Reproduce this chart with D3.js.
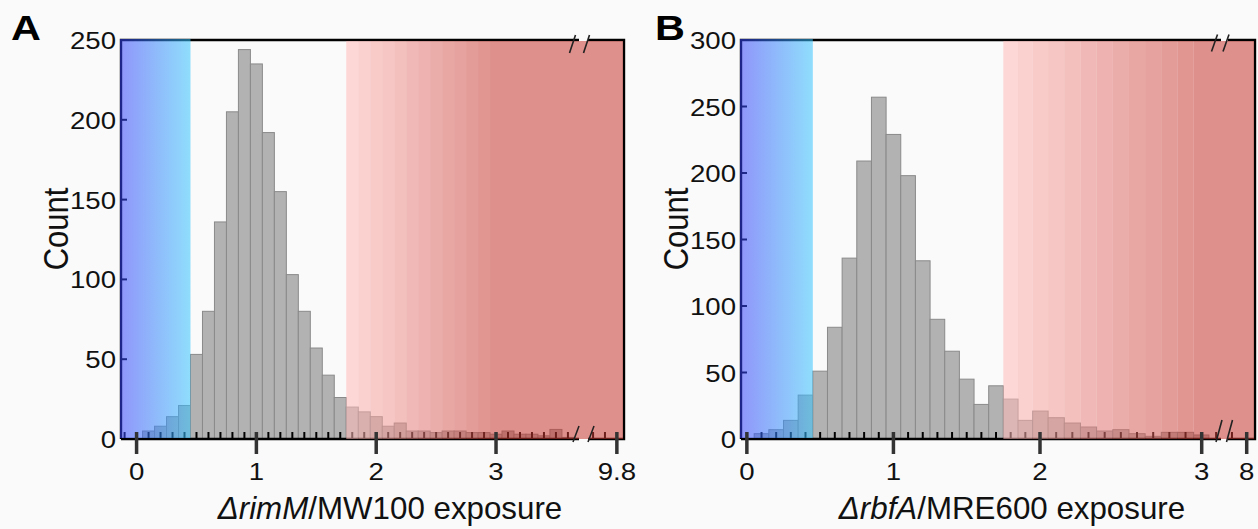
<!DOCTYPE html>
<html>
<head>
<meta charset="utf-8">
<script src="https://cdn.jsdelivr.net/npm/d3@7"></script>
<style>
body { margin: 0; background: #fafafa; }
svg { display: block; font-family: "Liberation Sans", Arial, Helvetica, sans-serif; }
</style>
</head>
<body>
<svg id="fig" width="1258" height="529"></svg>
<script>
// panel A: rimM / MW100, bins of 0.1 centred on the bin value
var binsA = [0.1, 0.2, 0.3, 0.4, 0.5, 0.6, 0.7, 0.8, 0.9, 1.0, 1.1, 1.2, 1.3, 1.4, 1.5, 1.6, 1.7, 1.8,
             1.9, 2.0, 2.1, 2.2, 2.3, 2.4, 2.5, 2.6, 2.7, 2.8, 2.9, 3.0, 3.1, 3.2, 3.3, 3.4, 3.5, 3.6];
var countsA = [5, 8, 14, 21, 53, 80, 136, 205, 244, 235, 192, 155, 103, 80, 57, 40, 26, 20,
               17, 14, 8, 10, 5, 5, 4, 5, 5, 4, 4, 3, 5, 3, 3, 2, 6, 1];
var majorTicksA = [0, 1, 2, 3, 9.8];
var tickLabelsA = ["0", "1", "2", "3", "9.8"];
var yTicksA = [0, 50, 100, 150, 200, 250];

// panel B: rbfA / MRE600
var binsB = [0.1, 0.2, 0.3, 0.4, 0.5, 0.6, 0.7, 0.8, 0.9, 1.0, 1.1, 1.2, 1.3, 1.4, 1.5,
             1.6, 1.7, 1.8, 1.9, 2.0, 2.1, 2.2, 2.3, 2.4, 2.5, 2.6, 2.7, 2.8, 2.9, 3.0];
var countsB = [4, 7, 14, 33, 51, 84, 136, 209, 257, 229, 198, 134, 90, 66, 45,
               26, 40, 30, 14, 21, 16, 12, 9, 6, 7, 4, 2, 5, 5, 3];
var majorTicksB = [0, 1, 2, 3, 8];
var tickLabelsB = ["0", "1", "2", "3", "8"];
var yTicksB = [0, 50, 100, 150, 200, 250, 300];

var lowCut = 0.45, highCut = 1.75, shadeEnd = 2.95, binW = 0.1;
var SX = 1.15; // the figure's lettering is a bit wide

var svg = d3.select("#fig");
var defs = svg.append("defs");

var blueGrad = defs.append("linearGradient").attr("id", "blueGrad");
blueGrad.append("stop").attr("offset", "0%").attr("stop-color", "rgb(55,66,250)");
blueGrad.append("stop").attr("offset", "100%").attr("stop-color", "rgb(55,198,254)");
var redColor = d3.interpolateRgb("rgb(255,186,182)", "rgb(199,56,49)");

function wideText(g, x, y, str, size, anchor) {
    return g.append("text")
        .attr("transform", "translate(" + x + "," + y + ") scale(" + SX + ",1)")
        .attr("text-anchor", anchor)
        .attr("font-size", size)
        .attr("fill", "#111")
        .text(str);
}

function drawPanel(o) {
    var g = svg.append("g");
    var x = o.x, y = o.y;
    var xr = x.range();
    var L = xr[0], R = xr[xr.length - 1], T = y.range()[1], B = y.range()[0];
    var data = o.bins.map(function(b, i) { return {b: b, c: o.counts[i]}; });

    // histogram bars
    g.selectAll("rect.bar").data(data).join("rect")
        .attr("class", "bar")
        .attr("x", function(d) { return x(d.b - binW / 2); })
        .attr("width", function(d) { return x(d.b + binW / 2) - x(d.b - binW / 2); })
        .attr("y", function(d) { return y(d.c); })
        .attr("height", function(d) { return B - y(d.c); })
        .attr("fill", "#b2b2b2")
        .attr("stroke", "#8a8a8a")
        .attr("stroke-width", 1);

    // minor ticks point inward
    g.selectAll("line.minor").data(o.minor).join("line")
        .attr("x1", function(d) { return x(d); }).attr("x2", function(d) { return x(d); })
        .attr("y1", B - 7).attr("y2", B)
        .attr("stroke", "#000").attr("stroke-width", 2);

    // y ticks, inward
    g.selectAll("line.ytick").data(o.yTicks).join("line")
        .attr("x1", L).attr("x2", L + 6)
        .attr("y1", function(d) { return y(d); }).attr("y2", function(d) { return y(d); })
        .attr("stroke", "#000").attr("stroke-width", 2);

    // frame with the axis break
    var b1 = o.gap[0], b2 = o.gap[1];
    var frame = "M" + L + "," + B + "V" + T + "H" + b1 + "M" + b2 + "," + T + "H" + R + "V" + B +
        "H" + b2 + "M" + b1 + "," + B + "H" + L;
    g.append("path").attr("d", frame).attr("fill", "none")
        .attr("stroke", "#000").attr("stroke-width", 2.4);

    // coloured shading laid over bars and ticks
    g.append("rect")
        .attr("x", L - 1).attr("y", T - 1)
        .attr("width", x(lowCut) - L + 1).attr("height", B - T)
        .attr("fill", "url(#blueGrad)").attr("fill-opacity", 0.55);

    var bands = d3.range(Math.round((shadeEnd - highCut) / binW)).map(function(k) {
        return {x0: highCut + k * binW, x1: highCut + (k + 1) * binW, t: k / 12};
    });
    bands.push({x0: shadeEnd, x1: null, t: 1});
    g.selectAll("rect.band").data(bands).join("rect")
        .attr("x", function(d) { return x(d.x0); })
        .attr("width", function(d) { return (d.x1 === null ? R - 1 : x(d.x1)) - x(d.x0); })
        .attr("y", T + 1).attr("height", B - T - 1)
        .attr("fill", function(d) { return redColor(d.t); })
        .attr("fill-opacity", 0.55);

    // major ticks cross the axis
    g.selectAll("line.major").data(o.major).join("line")
        .attr("x1", function(d) { return x(d); }).attr("x2", function(d) { return x(d); })
        .attr("y1", B - 7).attr("y2", B + 15)
        .attr("stroke", "#333").attr("stroke-width", 3.5);

    // break marks
    o.slashes.forEach(function(s) {
        g.append("line")
            .attr("x1", s[0] - 3).attr("y1", s[1] + s[2] / 2)
            .attr("x2", s[0] + 3).attr("y2", s[1] - s[2] / 2)
            .attr("stroke", "#222").attr("stroke-width", 1.6);
    });

    // tick labels
    o.major.forEach(function(v, i) {
        wideText(g, x(v), B + 41, o.labels[i], 24, "middle");
    });
    o.yTicks.forEach(function(v) {
        wideText(g, L - 5, y(v) + 9, String(v), 24, "end");
    });

    // axis titles
    g.append("text")
        .attr("transform", "translate(" + o.yTitleX + ",229) scale(" + SX + ",1) rotate(-90)")
        .attr("text-anchor", "middle").attr("font-size", 31).attr("fill", "#111")
        .text("Count");
    var xt = g.append("text")
        .attr("x", o.xTitleX).attr("y", 519)
        .attr("text-anchor", "middle").attr("font-size", 31.3).attr("fill", "#111");
    xt.append("tspan").attr("font-style", "italic").text(o.titleItalic);
    xt.append("tspan").text(o.titleRest);

    g.append("text")
        .attr("transform", "translate(" + o.letterX + ",40) scale(" + SX + ",1)")
        .attr("font-size", 36).attr("font-weight", "bold").attr("fill", "#000")
        .text(o.letter);
}

var xA = d3.scaleLinear()
    .domain([-0.13, 3.68, 9.57, 9.86])
    .range([121, 577.5, 589.5, 624]);
var yA = d3.scaleLinear().domain([0, 250]).range([439, 40]);

var minorA = d3.range(-1, 37).map(function(i) { return i / 10; })
    .filter(function(v) { return majorTicksA.indexOf(v) < 0; })
    .concat([9.6, 9.7]);

drawPanel({
    x: xA, y: yA, bins: binsA, counts: countsA,
    major: majorTicksA, labels: tickLabelsA, minor: minorA, yTicks: yTicksA,
    gap: [579, 588],
    slashes: [[576, 434, 16], [591, 434, 16], [572.5, 44, 18], [586.5, 44, 18]],
    yTitleX: 68, xTitleX: 390, titleItalic: "\u0394rimM", titleRest: "/MW100 exposure",
    letter: "A", letterX: 11
});

var xB = d3.scaleLinear()
    .domain([-0.04, 2, 3, 3.12, 7.88, 8, 8.06])
    .range([741, 1040, 1201.7, 1219, 1229, 1246.7, 1255]);
var yB = d3.scaleLinear().domain([0, 300]).range([439, 40]);

var minorB = d3.range(1, 30).map(function(i) { return i / 10; })
    .filter(function(v) { return majorTicksB.indexOf(v) < 0; })
    .concat([3.1, 7.9]);

drawPanel({
    x: xB, y: yB, bins: binsB, counts: countsB,
    major: majorTicksB, labels: tickLabelsB, minor: minorB, yTicks: yTicksB,
    gap: [1221, 1228],
    slashes: [[1219, 431, 22], [1229.5, 431, 22], [1214.5, 43, 17], [1226, 43, 17]],
    yTitleX: 688, xTitleX: 1012, titleItalic: "\u0394rbfA", titleRest: "/MRE600 exposure",
    letter: "B", letterX: 655
});
</script>
</body>
</html>
